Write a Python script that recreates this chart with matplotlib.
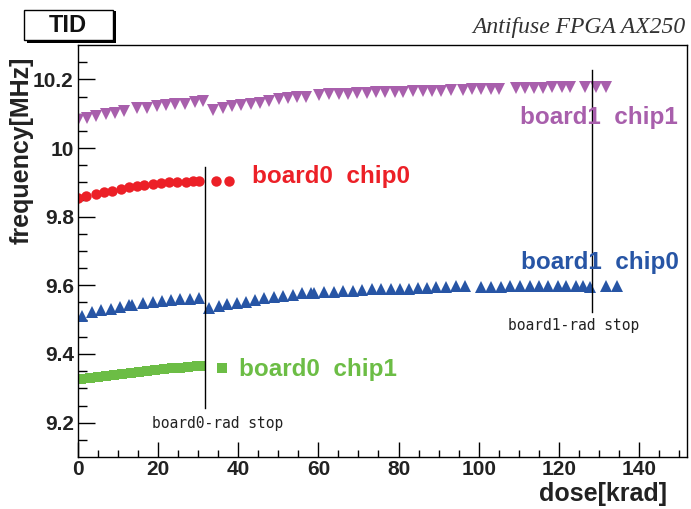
import matplotlib
matplotlib.use("Agg")
import matplotlib.pyplot as plt
from matplotlib.patches import Rectangle

# board1 chip1 (purple, down triangles)
b1c1_dose = [0.1, 2.3, 4.6, 6.9, 9.2, 11.5, 14.8, 17.2, 19.6, 21.9, 24.2, 26.6, 29.1, 31.3,
             33.7, 36.1, 38.4, 40.7, 43.1, 45.4, 47.6, 50.1, 52.3, 54.7, 56.9, 60.2, 62.7,
             65.1, 67.3, 69.7, 72.1, 74.4, 76.7, 79.0, 81.2, 83.6, 86.1, 88.4, 90.7, 93.2,
             96.1, 98.4, 100.7, 103.0, 105.1, 109.2, 111.5, 113.7, 116.1, 118.4, 120.7,
             122.9, 126.5, 129.4, 131.9]
b1c1_freq = [10.082, 10.087, 10.092, 10.098, 10.103, 10.109, 10.117, 10.117, 10.122, 10.126,
             10.128, 10.128, 10.133, 10.138, 10.111, 10.116, 10.121, 10.125, 10.128, 10.132,
             10.138, 10.143, 10.145, 10.148, 10.150, 10.155, 10.156, 10.158, 10.158, 10.160,
             10.161, 10.164, 10.164, 10.164, 10.164, 10.167, 10.167, 10.167, 10.167, 10.169,
             10.170, 10.171, 10.172, 10.172, 10.173, 10.174, 10.175, 10.175, 10.176, 10.177,
             10.177, 10.178, 10.178, 10.179, 10.179]

# board0 chip0 (red, circles)
b0c0_dose = [0.0, 1.9, 4.4, 6.5, 8.6, 10.7, 12.75, 14.8, 16.5, 18.6, 20.7, 22.75, 24.8,
             26.9, 28.6, 30.25, 34.4, 37.75]
b0c0_freq = [9.854, 9.861, 9.867, 9.872, 9.876, 9.881, 9.885, 9.890, 9.893, 9.896, 9.898,
             9.900, 9.901, 9.902, 9.904, 9.905, 9.905, 9.905]

# board1 chip0 (blue, up triangles)
b1c0_dose = [1.0, 3.4, 5.8, 8.2, 10.4, 12.75, 13.6, 16.25, 18.6, 20.9, 23.2, 25.5, 27.9,
             30.25, 32.75, 35.1, 37.3, 39.7, 41.9, 44.25, 46.5, 49.0, 51.25, 53.6, 55.9,
             58.2, 59.0, 61.5, 64.0, 66.25, 68.6, 70.9, 73.4, 75.6, 78.0, 80.25, 82.6, 84.8,
             87.2, 89.4, 91.75, 94.25, 96.6, 100.7, 103.2, 105.7, 107.9, 110.25, 112.75,
             115.1, 117.3, 119.8, 121.9, 124.25, 126.1, 127.75, 131.7, 134.6]
b1c0_freq = [9.512, 9.522, 9.527, 9.531, 9.538, 9.543, 9.543, 9.549, 9.552, 9.554, 9.557,
             9.559, 9.561, 9.563, 9.534, 9.541, 9.546, 9.549, 9.552, 9.556, 9.562, 9.566,
             9.570, 9.573, 9.577, 9.578, 9.578, 9.580, 9.581, 9.583, 9.583, 9.585, 9.588,
             9.588, 9.588, 9.589, 9.590, 9.592, 9.592, 9.594, 9.594, 9.597, 9.597, 9.595,
             9.596, 9.596, 9.597, 9.597, 9.598, 9.598, 9.598, 9.598, 9.598, 9.598, 9.597,
             9.596, 9.598, 9.599]

# board0 chip1 (green, squares)
b0c1_dose = [0.8, 2.9, 4.9, 7.0, 9.1, 11.1, 13.2, 15.2, 17.3, 19.3, 21.4, 23.4, 25.5,
             27.5, 29.6, 30.8, 36.0]
b0c1_freq = [9.326, 9.329, 9.333, 9.336, 9.340, 9.343, 9.346, 9.349, 9.351, 9.354, 9.356,
             9.358, 9.360, 9.362, 9.364, 9.366, 9.358]

x_ticks = [0, 20, 40, 60, 80, 100, 120, 140]
y_ticks = [9.2, 9.4, 9.6, 9.8, 10.0, 10.2]
y_tick_labels = ["9.2", "9.4", "9.6", "9.8", "10", "10.2"]

purple = "#a85fac"
red = "#ec2027"
blue = "#2755a5"
green = "#6cbd45"

narrow = ["Liberation Sans Narrow", "Liberation Sans", "DejaVu Sans"]
sans = ["Liberation Sans", "DejaVu Sans"]

fig = plt.figure(figsize=(6.91, 5.09), dpi=100)
W, H = 691, 509
ax = fig.add_axes([78 / W, 1 - 457 / H, (687 - 78) / W, (457 - 45) / H])

ax.plot(b1c1_dose, b1c1_freq, "v", color=purple, ms=8.3, mew=0, ls="none")
ax.plot(b0c0_dose, b0c0_freq, "o", color=red, ms=7.5, mew=0, ls="none")
ax.plot(b1c0_dose, b1c0_freq, "^", color=blue, ms=8.3, mew=0, ls="none")
ax.plot(b0c1_dose, b0c1_freq, "s", color=green, ms=7.3, mew=0, ls="none")

# rad stop markers
ax.plot([31.6, 31.6], [9.244, 9.946], color="black", lw=1)
ax.plot([128.2, 128.2], [9.522, 10.226], color="black", lw=1)
ax.text(18.4, 9.197, "board0-rad stop", family="DejaVu Sans Mono", fontsize=10.5,
        color="#222222", va="center", ha="left")
ax.text(107.4, 9.484, "board1-rad stop", family="DejaVu Sans Mono", fontsize=10.5,
        color="#222222", va="center", ha="left")

# series labels
ax.text(110.3, 10.090, "board1  chip1", color=purple, fontsize=17.5, fontweight="bold",
        family=sans, va="center", ha="left")
ax.text(43.5, 9.916, "board0  chip0", color=red, fontsize=17.5, fontweight="bold",
        family=sans, va="center", ha="left")
ax.text(110.5, 9.667, "board1  chip0", color=blue, fontsize=17.5, fontweight="bold",
        family=sans, va="center", ha="left")
ax.text(40.3, 9.354, "board0  chip1", color=green, fontsize=17.5, fontweight="bold",
        family=sans, va="center", ha="left")

ax.set_xlim(0, 152)
ax.set_ylim(9.1, 10.3)
ax.set_xticks(x_ticks)
ax.set_xticks([v for v in range(0, 151, 5)], minor=True)
ax.set_yticks(y_ticks)
ax.set_yticklabels(y_tick_labels)
ax.set_yticks([9.15 + 0.05 * i for i in range(23)], minor=True)
ax.tick_params(which="both", direction="in", top=False, right=False, width=1)
ax.tick_params(axis="y", which="major", length=12.5, pad=3)
ax.tick_params(axis="y", which="minor", length=6.5)
ax.tick_params(axis="x", which="major", length=11, pad=2)
ax.tick_params(axis="x", which="minor", length=5)
for lab in ax.get_xticklabels() + ax.get_yticklabels():
    lab.set_family(narrow)
    lab.set_fontweight("bold")
    lab.set_fontsize(15)
    lab.set_color("#222222")
for sp in ax.spines.values():
    sp.set_linewidth(1)

fig.text(22 / W, 1 - 57 / H, "frequency[MHz]", rotation=90, ha="center", va="top",
         fontsize=18, fontweight="bold", family=narrow, color="#222222")
fig.text(667 / W, 1 - 494 / H, "dose[krad]", ha="right", va="center",
         fontsize=18, fontweight="bold", family=narrow, color="#222222")

# title box with shadow
fig.patches.append(Rectangle((27 / W, 1 - 43 / H), 89 / W, 32 / H, transform=fig.transFigure,
                             facecolor="black", edgecolor="none", zorder=1))
fig.patches.append(Rectangle((24 / W, 1 - 40 / H), 89 / W, 30 / H, transform=fig.transFigure,
                             facecolor="white", edgecolor="black", lw=1, zorder=2))
fig.text(68 / W, 1 - 25 / H, "TID", ha="center", va="center", fontsize=17,
         fontweight="bold", family=sans, color="#111111", zorder=3)

fig.text(686 / W, 1 - 28 / H, "Antifuse FPGA AX250", ha="right", va="center",
         fontsize=17, style="italic", family=["Liberation Serif", "DejaVu Serif"],
         color="#333333")

fig.savefig("out.png", dpi=100)
